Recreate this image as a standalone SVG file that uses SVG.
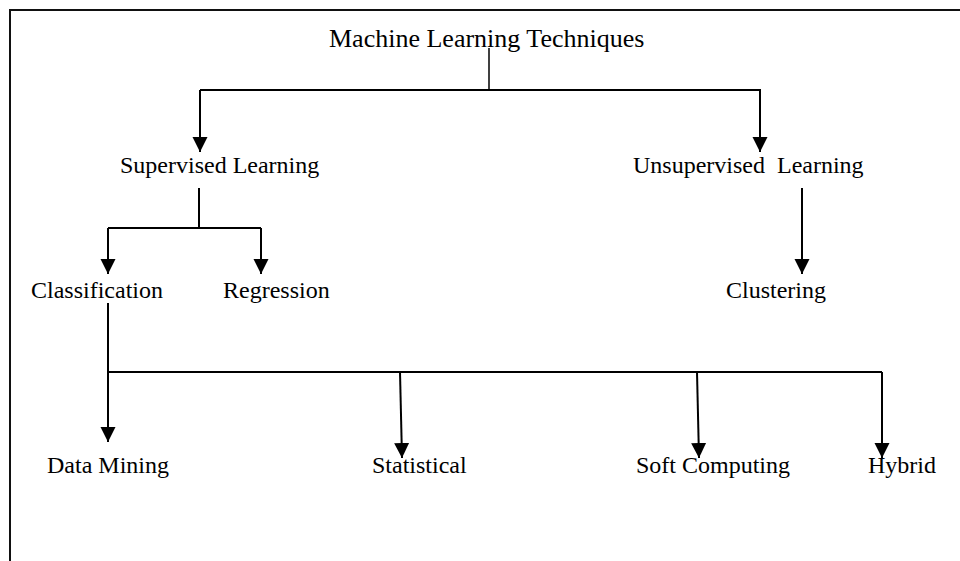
<svg xmlns="http://www.w3.org/2000/svg" width="960" height="561" viewBox="0 0 960 561">
<style>
  text { font-family: "Liberation Serif", "Times New Roman", serif; font-size: 24px; fill: #000; }
  .title { font-size: 26px; }
  .frame { fill: none; stroke: #111; stroke-width: 2; }
  .conn { fill: none; stroke: #000; stroke-width: 2; }
  .thin { fill: none; stroke: #000; stroke-width: 1.5; }
</style>
<defs>
  <marker id="arrow" markerUnits="userSpaceOnUse" markerWidth="16" markerHeight="16" viewBox="0 0 16 16" refX="15" refY="8" orient="auto">
    <path d="M0,0.5 L15,8 L0,15.5 z" fill="#000"/>
  </marker>
</defs>
<rect width="960" height="561" fill="#fff"/>
<path class="frame" d="M10,561 L10,10 L960,10"/>
<g id="connectors">
  <path class="thin" d="M489,48 L489,90"/>
  <path class="conn" d="M200,90 L761,90"/>
  <path class="conn" d="M200,90 L200,152" marker-end="url(#arrow)"/>
  <path class="conn" d="M760,90 L760,152" marker-end="url(#arrow)"/>
  <path class="conn" d="M199,188 L199,228"/>
  <path class="conn" d="M108,228 L261,228"/>
  <path class="conn" d="M108,228 L108,274" marker-end="url(#arrow)"/>
  <path class="conn" d="M261,228 L261,274" marker-end="url(#arrow)"/>
  <path class="conn" d="M802,188 L802,274" marker-end="url(#arrow)"/>
  <path class="conn" d="M108,303 L108,442" marker-end="url(#arrow)"/>
  <path class="conn" d="M108,372 L882,372"/>
  <path class="conn" d="M400,372 L402,458" marker-end="url(#arrow)"/>
  <path class="conn" d="M697,372 L699,458" marker-end="url(#arrow)"/>
  <path class="conn" d="M882,372 L882,458" marker-end="url(#arrow)"/>
</g>
<g id="node-root"><text class="title" x="329" y="47">Machine Learning Techniques</text></g>
<g id="node-supervised"><text x="120" y="173">Supervised Learning</text></g>
<g id="node-unsupervised"><text x="633" y="173" xml:space="preserve">Unsupervised  Learning</text></g>
<g id="node-classification"><text x="31" y="298">Classification</text></g>
<g id="node-regression"><text x="223" y="298">Regression</text></g>
<g id="node-clustering"><text x="726" y="298">Clustering</text></g>
<g id="node-datamining"><text x="47" y="473">Data Mining</text></g>
<g id="node-statistical"><text x="372" y="473">Statistical</text></g>
<g id="node-softcomputing"><text x="636" y="473">Soft Computing</text></g>
<g id="node-hybrid"><text x="868" y="473">Hybrid</text></g>
</svg>
